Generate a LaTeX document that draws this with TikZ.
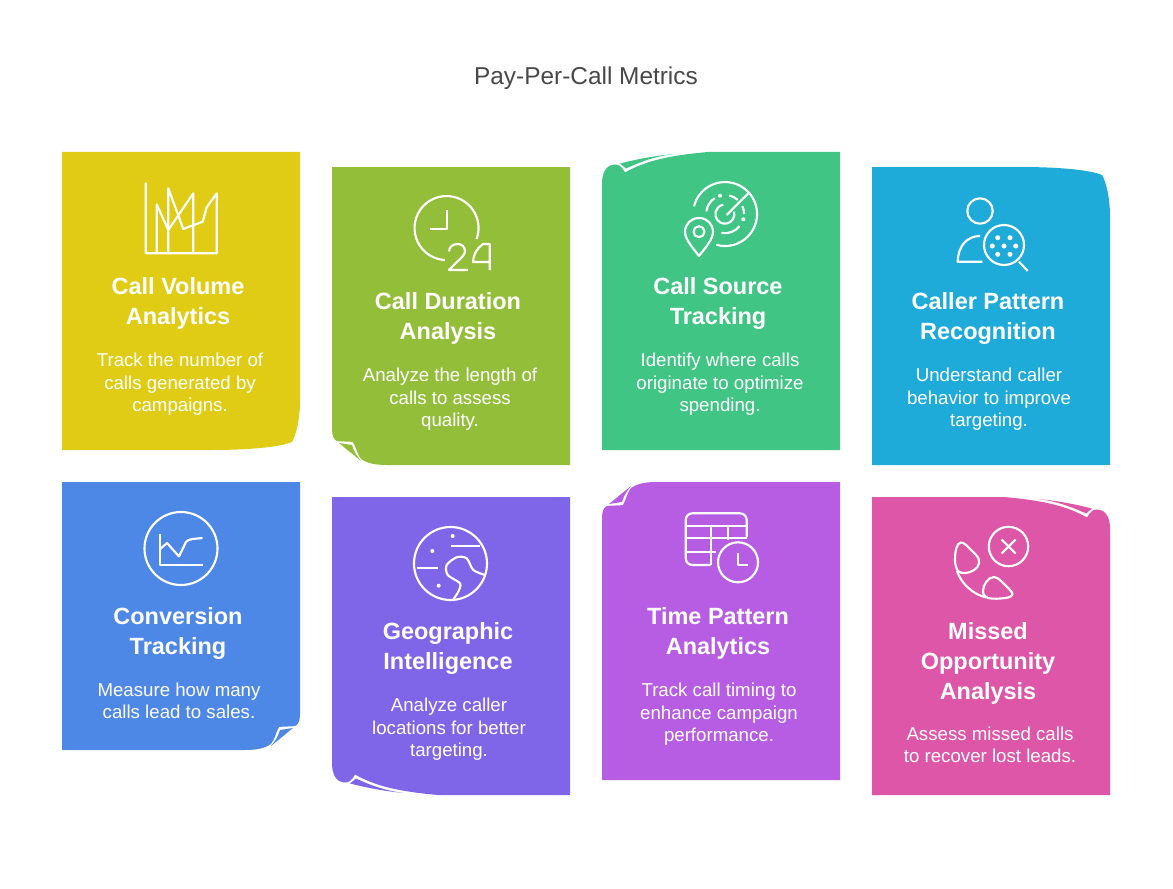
\documentclass[tikz,border=0pt]{standalone}
\usepackage{fontspec}
\setmainfont{Liberation Sans}
\definecolor{volumecol}{HTML}{E0CC14}
\definecolor{durationcol}{HTML}{93BE39}
\definecolor{sourcecol}{HTML}{40C585}
\definecolor{patterncol}{HTML}{1EABDA}
\definecolor{conversioncol}{HTML}{4E88E7}
\definecolor{geocol}{HTML}{7F65E7}
\definecolor{timecol}{HTML}{B75DE3}
\definecolor{missedcol}{HTML}{DD56A8}
\definecolor{maintitle}{HTML}{484848}
\newcommand{\bentcard}[5]{\begin{scope}[shift={#2},xscale=#3,yscale=#4]
\fill[#1] (0,50) .. controls (0,30) and (4,15) .. (8,8) .. controls (20,3) and (50,0) .. (90,0) -- (238,0) -- (238,#5) -- (0,#5) -- cycle;
\end{scope}}
\newcommand{\dogcard}[5]{\begin{scope}[shift={#2},xscale=#3,yscale=#4]
\fill[#1] (0,36) .. controls (0,29) and (2,25) .. (5,24) .. controls (10,23) and (16,24) .. (21,23) .. controls (24,18) and (25,11) .. (29,6) .. controls (35,2) and (42,0) .. (55,0) -- (238,0) -- (238,#5) -- (0,#5) -- cycle;
\fill[#1] (7,22) -- (20,20) .. controls (22,13) and (25,9) .. (29,4) -- cycle;
\end{scope}}
\newcommand{\rollcard}[5]{\begin{scope}[shift={#2},xscale=#3,yscale=#4]
\fill[#1] (0,32) .. controls (0,18) and (6,13) .. (12,12.5) .. controls (17,12) and (20,15) .. (23,20.5) .. controls (40,11) and (60,4) .. (106,0) -- (238,0) -- (238,#5) -- (0,#5) -- cycle;
\fill[#1] (18,11.5) .. controls (32,8) and (50,4) .. (72,2) .. controls (55,4) and (40,9) .. (24,16.5) -- cycle;
\end{scope}}
\begin{document}
\begin{tikzpicture}[x=0.75pt,y=-0.75pt]
\tikzstyle{heading}=[text=white,align=center,font=\fontsize{17.6}{22.5}\selectfont\bfseries]
\tikzstyle{blurb}=[text=white,align=center,font=\fontsize{14}{16.9}\selectfont]
\tikzstyle{iconline}=[draw=white,line width=1.6pt,line join=round]
\useasboundingbox (0,0) rectangle (1173,888);
\node[text=maintitle,font=\fontsize{18.3}{22}\selectfont] (charttitle) at (586,78) {Pay-Per-Call Metrics};

\bentcard{volumecol}{(300,450)}{-1}{-1}{298}
\dogcard{durationcol}{(332,465)}{1}{-1}{298}
\rollcard{sourcecol}{(602,152)}{1}{1}{298}
\bentcard{patterncol}{(1110,167)}{-1}{1}{298}
\dogcard{conversioncol}{(300,750)}{-1}{-1}{268}
\rollcard{geocol}{(332,795)}{1}{-1}{298}
\dogcard{timecol}{(602,482)}{1}{1}{298}
\rollcard{missedcol}{(1110,497)}{-1}{1}{298}

\node[heading] (volumehead) at (178,303.5) {Call Volume\\Analytics};
\node[blurb] (volumeblurb) at (180,384.5) {Track the number of\\calls generated by\\campaigns.};
\node[heading] (durationhead) at (448,318.5) {Call Duration\\Analysis};
\node[blurb] (durationblurb) at (450,399.5) {Analyze the length of\\calls to assess\\quality.};
\node[heading] (sourcehead) at (718,303.5) {Call Source\\Tracking};
\node[blurb] (sourceblurb) at (720,384.5) {Identify where calls\\originate to optimize\\spending.};
\node[heading] (patternhead) at (988,318.5) {Caller Pattern\\Recognition};
\node[blurb] (patternblurb) at (989,399.5) {Understand caller\\behavior to improve\\targeting.};
\node[heading] (conversionhead) at (178,633.5) {Conversion\\Tracking};
\node[blurb] (conversionblurb) at (179,701) {Measure how many\\calls lead to sales.};
\node[heading] (geohead) at (448,648.5) {Geographic\\Intelligence};
\node[blurb] (geoblurb) at (449,729.5) {Analyze caller\\locations for better\\targeting.};
\node[heading] (timehead) at (718,633.5) {Time Pattern\\Analytics};
\node[blurb] (timeblurb) at (719,714.5) {Track call timing to\\enhance campaign\\performance.};
\node[heading] (missedhead) at (988,663.5) {Missed\\Opportunity\\Analysis};
\node[blurb] (missedblurb) at (990,745) {Assess missed calls\\to recover lost leads.};

\draw[iconline] (145.7,182.7) -- (145.7,253.3) -- (216.7,253.3) -- (216.7,193.3) -- (206.7,207.3) -- (202.7,221.7) -- (183.3,229) -- (168.3,188.3) -- (168.3,253.3);
\draw[iconline] (156.7,253.3) -- (156.7,204.3) -- (168.3,230) -- (193.3,193.3) -- (193.3,253.3);

\draw[iconline] (476.6,239) arc (20:-267:32);
\draw[iconline] (447.2,209.7) -- (447.2,229) -- (430.3,229);
\draw[iconline] (449,251.5) .. controls (449,247) and (453,244) .. (457.5,244) .. controls (462,244) and (465,247) .. (465,251.5) .. controls (465,256) and (456,262) .. (449,270) -- (467.8,270);
\draw[iconline] (489.7,270) -- (489.7,244) -- (483,244) .. controls (477,248) and (473,255) .. (473,262) -- (490.5,262);

\draw[iconline] (694,206.3) arc (194:466:32);
\draw[iconline] (706.3,211.4) arc (188:237:19);
\draw[iconline] (729.3,195.5) arc (283:312:19);
\draw[iconline] (742.3,206) arc (335:360:19);
\draw[iconline] (739.5,226.2) arc (39:100:19);
\fill[white] (720,195.7) circle (2) (743.3,219.3) circle (2);
\draw[iconline] (734,211.7) arc (-15:260:9.5);
\draw[iconline] (726.7,215) -- (749,192.7);
\draw[iconline] (699,256) .. controls (692,247) and (685,239) .. (685,232) .. controls (685,224) and (691,218) .. (699,218) .. controls (707,218) and (713,224) .. (713,232) .. controls (713,239) and (706,247) .. (699,256) -- cycle;
\draw[iconline] (699,231.7) circle (5.5);

\draw[iconline] (980,211) circle (12.7);
\draw[iconline] (980,236) .. controls (967,236) and (958,246) .. (957.7,261.7) -- (982.3,261.7);
\draw[iconline] (1004,245) circle (20);
\draw[iconline] (1019,261.7) -- (1027.7,271);
\fill[white] (997.7,237.7) circle (2.5) (1010,237.7) circle (2.5) (992.3,246) circle (2.5) (1004,246) circle (2.5) (1015.7,246) circle (2.5) (997.7,254.3) circle (2.5) (1010,254.3) circle (2.5);

\draw[iconline] (181,548.5) circle (36.5);
\draw[iconline] (160.2,534) -- (160.2,565.4) -- (202.5,565.4);
\draw[iconline] (160.2,549) -- (167,543) -- (179,556.4) -- (186,542) .. controls (188,539) and (193,539) .. (202.5,538);

\draw[iconline] (450.5,563.5) circle (36.5);
\draw[iconline] (450.7,546) -- (480,546);
\draw[iconline] (416.7,568.3) -- (437.7,568.3);
\fill[white] (452.7,536) circle (2) (432.3,551) circle (2) (438.7,585.7) circle (2);
\draw[iconline] plot[smooth] coordinates {(485,575) (473.3,570) (466.7,558.3) (456.7,557.3) (446.7,565) (447.7,575) (460,583.3) (458.3,591.7) (453.3,599.3)};

\draw[iconline,rounded corners=5pt] (710.7,565) -- (685.7,565) -- (685.7,513.3) -- (746.7,513.3) -- (746.7,537);
\draw[iconline] (685.7,525.7) -- (746.7,525.7);
\draw[iconline] (685.7,538.3) -- (746.7,538.3);
\draw[iconline] (685.7,551.7) -- (715.7,551.7);
\draw[iconline] (710.7,525.7) -- (710.7,565);
\draw[iconline] (727.7,525.7) -- (727.7,540);
\draw[iconline] (738,562.3) circle (20);
\draw[iconline] (737.7,553.3) -- (737.7,565) -- (748.3,565);

\draw[iconline] (1008.5,546.5) circle (19.7);
\draw[iconline] (1001.5,539.5) -- (1015.5,553.5);
\draw[iconline] (1015.5,539.5) -- (1001.5,553.5);
\draw[iconline] (955,560) .. controls (955,550) and (957,543) .. (961,542.5) .. controls (964,542) and (967,546) .. (976,555) .. controls (981,560) and (980,566) .. (974,570) .. controls (968,574) and (961,574) .. (958,571) .. controls (956,568) and (955,564) .. (955,560) -- cycle;
\draw[iconline] (983,591) .. controls (983,585) and (988,577) .. (994,577) .. controls (998,577) and (1003,583) .. (1010,590) .. controls (1014,594) and (1013,596) .. (1008,597.5) .. controls (1000,599) and (992,599) .. (988,598) .. controls (985,597) and (983,595) .. (983,591) -- cycle;
\draw[iconline] (957,571) .. controls (961,583) and (972,594) .. (986,597.5);
\end{tikzpicture}
\end{document}
